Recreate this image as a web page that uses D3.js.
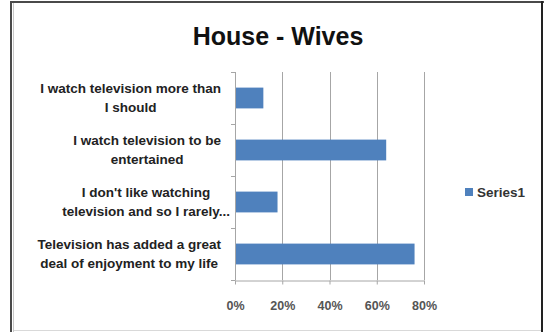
<!DOCTYPE html>
<html><head><meta charset="utf-8">
<script src="https://cdn.jsdelivr.net/npm/d3@7"></script>
<style>body{margin:0;background:#fff}svg{display:block}</style>
</head><body>
<svg id="c" width="544" height="332"></svg>
<script>
const title = "House - Wives";
const categories = [
  ["I watch television more than", "I should"],
  ["I watch television to be", "entertained"],
  ["I don't like watching", "television and so I rarely..."],
  ["Television has added a great", "deal of enjoyment to my life"]
];
const values = [0.12, 0.64, 0.18, 0.76];
const seriesName = "Series1";
const xTicks = [0, 0.2, 0.4, 0.6, 0.8];

const svg = d3.select("#c");
const W = 544, H = 332;
const font = "'Liberation Sans', Arial, sans-serif";

// frame
svg.append("rect").attr("x", 0).attr("y", 0).attr("width", W).attr("height", H).attr("fill", "#fff");
svg.append("line").attr("x1", 13.5).attr("x2", 13.5).attr("y1", 2).attr("y2", H).attr("stroke", "#c8c8c8").attr("stroke-width", 1);
svg.append("line").attr("x1", 11).attr("x2", 11).attr("y1", 1).attr("y2", H).attr("stroke", "#4a4a4a").attr("stroke-width", 2);
svg.append("line").attr("x1", 10).attr("x2", 544).attr("y1", 2).attr("y2", 2).attr("stroke", "#4a4a4a").attr("stroke-width", 2);
svg.append("line").attr("x1", 542).attr("x2", 542).attr("y1", 1).attr("y2", H).attr("stroke", "#222").attr("stroke-width", 2);
svg.append("line").attr("x1", 14).attr("x2", 541).attr("y1", 330.5).attr("y2", 330.5).attr("stroke", "#d9d9d9").attr("stroke-width", 1);

// title
svg.append("text").attr("x", 278).attr("y", 44.5).attr("text-anchor", "middle")
  .attr("font-family", font).attr("font-weight", "bold").attr("font-size", 25).attr("fill", "#111")
  .text(title);

const x = d3.scaleLinear().domain([0, 0.8]).range([235, 424]);
const y = d3.scaleBand().domain(d3.range(categories.length)).range([72, 280]).paddingInner(0.6).paddingOuter(0.3);

// gridlines
svg.append("g").selectAll("line").data(xTicks.slice(1)).join("line")
  .attr("x1", d => Math.round(x(d)) + 0.5).attr("x2", d => Math.round(x(d)) + 0.5)
  .attr("y1", 72).attr("y2", 280).attr("stroke", "#a6a6a6").attr("stroke-width", 1);

// bottom axis
const xAxis = d3.axisBottom(x).tickValues(xTicks).tickFormat(d3.format(".0%")).tickSizeInner(4).tickSizeOuter(0).tickPadding(17);
const gx = svg.append("g").attr("transform", "translate(0,280.5)").call(xAxis);
gx.select(".domain").attr("stroke", "#a6a6a6");
gx.selectAll(".tick line").attr("stroke", "#a6a6a6");
gx.selectAll("text").attr("font-family", font).attr("font-weight", "bold").attr("font-size", 12.5).attr("fill", "#555");

// left axis line and ticks
const catBounds = d3.range(categories.length + 1).map(i => 72 + i * (280 - 72) / categories.length);
svg.append("line").attr("x1", 235.5).attr("x2", 235.5).attr("y1", 72).attr("y2", 280).attr("stroke", "#a6a6a6");
svg.append("g").selectAll("line").data(catBounds).join("line")
  .attr("x1", 231).attr("x2", 235.5).attr("y1", d => Math.round(d) + 0.5).attr("y2", d => Math.round(d) + 0.5)
  .attr("stroke", "#a6a6a6");

// bars
svg.append("g").selectAll("rect").data(values).join("rect")
  .attr("x", x(0) + 1).attr("y", (d, i) => y(i)).attr("height", y.bandwidth())
  .attr("width", d => x(d) - x(0) - 1).attr("fill", "#4f81bd");

// category labels
const lab = svg.append("g");
categories.forEach((lines, i) => {
  const cy = y(i) + y.bandwidth() / 2;
  const t = lab.append("text").attr("font-family", font).attr("font-weight", "bold")
    .attr("font-size", 13.5).attr("fill", "#222").attr("text-anchor", "middle");
  lines.forEach((ln, j) => {
    t.append("tspan").attr("dy", j === 0 ? 0 : 18.5).text(ln);
  });
  const widths = [];
  t.selectAll("tspan").each(function () { widths.push(this.getComputedTextLength()); });
  const maxW = d3.max(widths);
  const right = i === 2 ? 230 : 221;
  const cx = right - maxW / 2;
  t.selectAll("tspan").attr("x", cx);
  t.attr("y", cy - 9.25 + 4.5).selectAll("tspan").filter((d, j) => j === 0).attr("y", cy - 9.25 + 4.5);
});

// legend
svg.append("rect").attr("x", 465).attr("y", 188).attr("width", 8).attr("height", 8).attr("fill", "#4f81bd");
svg.append("text").attr("x", 477).attr("y", 197).attr("font-family", font).attr("font-weight", "bold")
  .attr("font-size", 13.5).attr("fill", "#333").text(seriesName);
</script>
</body></html>
